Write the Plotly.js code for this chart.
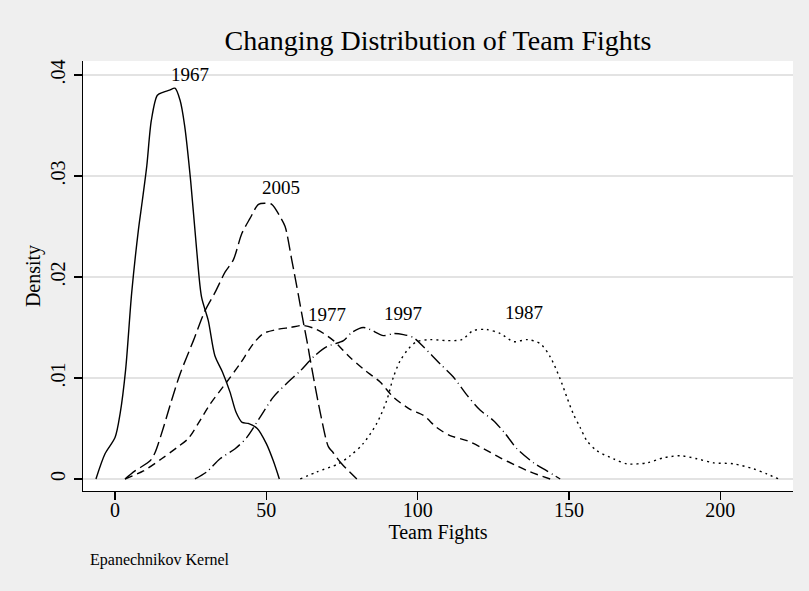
<!DOCTYPE html>
<html>
<head>
<meta charset="utf-8">
<script src="https://cdn.plot.ly/plotly-3.0.1.min.js"></script>
<style>html,body{margin:0;padding:0;background:#efefef;}#chart{width:809px;height:591px;}</style>
</head>
<body>
<div id="chart"></div>
<script>
// Kernel density estimates of team fights by season
const x1967 = [-6.3, -3.3, 0, 1.7, 3.5, 5.5, 7.7, 9, 10.5, 12, 14, 16, 18, 19.8, 21.5, 23, 25, 27, 28.6, 30.8, 33, 35.5, 38, 40, 42, 44, 47, 50, 52.3, 54.3];
const y1967 = [0, .0025, .0041, .0065, .0108, .0184, .0246, .0275, .031, .0355, .038, .0383, .0385, .0387, .0375, .035, .0295, .0226, .018, .0157, .0122, .0106, .0086, .0066, .0056, .0055, .005, .0035, .0018, 0];

const x2005 = [3.3, 6.6, 11.6, 13.2, 16, 18.7, 21.5, 25.9, 29.8, 33.1, 36.4, 39.1, 41.9, 44.6, 47.4, 49.6, 51.8, 54.5, 56.2, 58.4, 60.6, 62.3, 63.4, 65, 67.8, 70.5, 72.1, 74.9, 79.9];
const y2005 = [0, .0008, .0018, .0026, .0051, .0078, .0104, .0137, .0167, .0185, .0205, .0217, .0243, .0258, .0272, .0273, .0272, .026, .025, .0217, .0182, .0154, .0137, .011, .0066, .0032, .0026, .0015, 0];

const x1977 = [3.3, 9.4, 15.4, 20.4, 24.2, 27.5, 31.4, 36.9, 41.3, 45.7, 49, 53.4, 57.9, 62, 66.7, 72.2, 77.1, 82, 87.6, 92, 97.5, 101.9, 106.3, 110.7, 116.3, 121.8, 127.3, 132.8, 137.2, 143.8];
const y1977 = [0, .0008, .002, .0031, .004, .0055, .0074, .0096, .0114, .0134, .0144, .0148, .015, .0152, .0148, .0137, .0122, .0109, .0096, .0081, .0069, .0063, .0051, .0043, .0038, .003, .0021, .0013, .0007, 0];

const x1997 = [26.4, 30.3, 34.7, 39.7, 43.5, 47.9, 52.3, 57.2, 61.2, 65.6, 70, 75.5, 78.2, 82, 84.3, 88.7, 92, 95.3, 98.6, 101.9, 107.4, 111.8, 116.3, 120.7, 125, 128.9, 132.8, 138.3, 142.7, 147.1];
const y1997 = [0, .0007, .002, .003, .0041, .0061, .0081, .0096, .0107, .0121, .0131, .0137, .0145, .015, .0148, .0142, .0144, .0143, .014, .0131, .0114, .0101, .0083, .0068, .0058, .0045, .003, .0016, .0008, 0];

const x1987 = [61.2, 66.7, 73.8, 77.7, 82, 86.5, 89.8, 92, 94.2, 97, 99.7, 104.1, 109.6, 114.6, 118.4, 122.8, 127.3, 131.7, 136.3, 140.5, 143.8, 147.1, 149.3, 151.5, 153.7, 155.9, 159.2, 164.7, 169.2, 175.8, 181.3, 186.8, 192.3, 197.8, 204.4, 211, 215.4, 219.3];
const y1987 = [0, .0007, .0015, .0023, .0035, .0055, .0078, .0101, .0117, .0129, .0136, .0138, .0137, .0138, .0147, .0148, .0144, .0136, .0138, .0134, .0121, .0099, .0081, .0064, .0051, .0038, .0028, .002, .0015, .0016, .0021, .0023, .002, .0016, .0015, .001, .0005, 0];

const yTickVals = [0, .01, .02, .03, .04];
const yTickText = ['0', '.01', '.02', '.03', '.04'];
const xTickVals = [0, 50, 100, 150, 200];
const xTickText = ['0', '50', '100', '150', '200'];

const seriesNames = ['1967', '2005', '1977', '1997', '1987'];
const labelX = [24.8, 54.9, 70, 95, 135];
const labelY = [.0401, .0289, .0163, .0164, .0165];

const FONT = 'Liberation Serif, Times New Roman, serif';
const lw = 1.4;

const styles = [
  {dash: 'solid'},
  {dash: '14px,5px'},
  {dash: '8px,5px'},
  {dash: '13px,4px,1px,4px'},
  {dash: '2px,4px'}
];
const xs = [x1967, x2005, x1977, x1997, x1987];
const ys = [y1967, y2005, y1977, y1997, y1987];

const traces = seriesNames.map((n, i) => ({
  type: 'scatter', mode: 'lines', name: n, x: xs[i], y: ys[i], hoverinfo: 'skip',
  line: {color: '#000', width: lw, dash: styles[i].dash, shape: 'spline', smoothing: 0.8}
}));

const annotations = seriesNames.map((n, i) => ({
  x: labelX[i], y: labelY[i], xref: 'x', yref: 'y', text: n, showarrow: false,
  font: {family: FONT, size: 19, color: '#000'}
}));
annotations.push({
  xref: 'paper', yref: 'paper', x: 0.007, y: -0.16, xanchor: 'left', yanchor: 'middle',
  text: 'Epanechnikov Kernel', showarrow: false,
  font: {family: FONT, size: 16, color: '#000'}
});

const layout = {
  width: 809, height: 591,
  paper_bgcolor: '#efefef', plot_bgcolor: '#ffffff',
  margin: {l: 83, r: 16, t: 61, b: 100},
  showlegend: false,
  font: {family: FONT, color: '#000', size: 20},
  title: {text: 'Changing Distribution of Team Fights', x: 0.5, xref: 'paper', xanchor: 'center',
          y: 0.932, yref: 'container', yanchor: 'middle', font: {family: FONT, size: 28, color: '#000'}},
  xaxis: {
    range: [-10.58, 224.03], tickvals: xTickVals, ticktext: xTickText,
    showgrid: false, zeroline: false, showline: true, linecolor: '#000', linewidth: 1.3,
    ticks: 'outside', ticklen: 8, tickwidth: 1.3, tickcolor: '#000', ticklabelstandoff: -7,
    tickfont: {family: FONT, size: 20, color: '#000'},
    title: {text: 'Team Fights', font: {family: FONT, size: 20, color: '#000'}, standoff: 0}
  },
  yaxis: {
    range: [-0.00119, 0.04139], tickvals: yTickVals, ticktext: yTickText, tickangle: -90,
    showgrid: true, gridcolor: '#e3e3e3', gridwidth: 1.3, zeroline: false,
    showline: true, linecolor: '#000', linewidth: 1.3,
    ticks: 'outside', ticklen: 8, tickwidth: 1.3, tickcolor: '#000', ticklabelstandoff: 1,
    tickfont: {family: FONT, size: 20, color: '#000'},
    title: {text: 'Density', font: {family: FONT, size: 20, color: '#000'}, standoff: 0}
  },
  annotations: annotations
};

Plotly.newPlot('chart', traces, layout, {staticPlot: true, displayModeBar: false});
</script>
</body>
</html>
